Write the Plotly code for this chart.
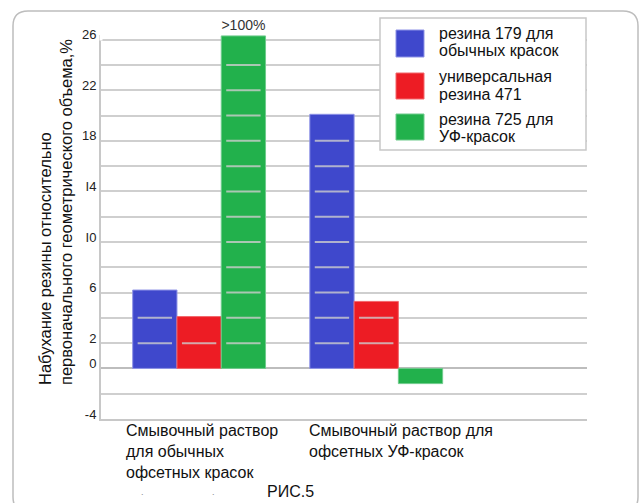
import plotly.graph_objects as go

# ---------------- data ----------------
categories = [
    "Смывочный раствор<br>для обычных<br>офсетных красок",
    "Смывочный раствор для<br>офсетных УФ-красок",
]
series_names = [
    ["резина 179 для", "обычных красок"],
    ["универсальная", "резина 471"],
    ["резина 725 для", "УФ-красок"],
]
resin_179 = [6.2, 20.1]
resin_471 = [4.1, 5.3]
resin_725 = [26.3, -1.2]
resin_725_labels = [">100%", ""]
tick_values = [26, 22, 18, 14, 10, 6, 2, 0, -4]
tick_labels = ["26", "22", "18", "I4", "I0", "6", "2", "0", "-4"]
y_title = "Набухание резины относительно<br>первоначального геометрического объема,%"
caption = "РИС.5"

# ---------------- style ----------------
colors = ["#3F48CC", "#ED1C24", "#22B14C"]
edge_colors = ["#8E93E6", "#F2666B", "#6FCB8C"]
FONT = "Liberation Sans, Arial, sans-serif"
W, H = 643, 503
ML, MR, MT, MB = 101, 56, 35, 84
PW, PH = W - ML - MR, H - MT - MB
PX_PER_UNIT = 12.643
Y_MIN = -4
Y_MAX = Y_MIN + PH / PX_PER_UNIT


def px(x):
    return (x - ML) / PW


def py(y):
    return (H - MB - y) / PH


bar_width = 0.25
offsets = [-0.375, -0.125, 0.125]
x_pos = list(range(len(categories)))
series = [resin_179, resin_471, resin_725]

fig = go.Figure()
for i, vals in enumerate(series):
    fig.add_trace(go.Bar(
        x=x_pos, y=vals, width=bar_width, offset=offsets[i],
        marker=dict(color=colors[i], line=dict(color=edge_colors[i], width=1)),
        text=resin_725_labels if i == 2 else None,
        textposition="outside" if i == 2 else "none",
        textfont=dict(family=FONT, size=14, color="#333333"),
        constraintext="none", cliponaxis=False,
        showlegend=False, hoverinfo="skip",
    ))

# light lines seen through the bars at gridline levels
inset = 0.028
seg_x, seg_y = [], []
for i, vals in enumerate(series):
    for xi, v in zip(x_pos, vals):
        g = 2
        while g < v - 0.5:
            x0 = xi + offsets[i] + inset
            x1 = xi + offsets[i] + bar_width - inset
            seg_x += [x0, x1, None]
            seg_y += [g, g, None]
            g += 2
fig.add_trace(go.Scatter(
    x=seg_x, y=seg_y, mode="lines",
    line=dict(color="rgba(205,205,205,0.8)", width=2),
    showlegend=False, hoverinfo="skip",
))

grid_c = "#cfcfcf"
fig.update_layout(
    width=W, height=H,
    margin=dict(l=ML, r=MR, t=MT, b=MB),
    paper_bgcolor="white", plot_bgcolor="white",
    barmode="overlay",
    font=dict(family=FONT, color="#222222"),
    showlegend=False,
    xaxis=dict(
        range=[-0.554, 2.19], showticklabels=False, showgrid=False,
        zeroline=False, showline=True, linecolor="#c8c8c8", linewidth=2,
        fixedrange=True,
    ),
    yaxis=dict(
        range=[Y_MIN, Y_MAX], tickmode="array", tickvals=tick_values,
        ticktext=tick_labels, showgrid=True, gridcolor=grid_c, gridwidth=1.5,
        minor=dict(tick0=0, dtick=2, showgrid=True, gridcolor=grid_c, gridwidth=1.5),
        zeroline=True, zerolinecolor="#bdbdbd", zerolinewidth=2,
        showline=True, linecolor="#c8c8c8", linewidth=2,
        tickfont=dict(family=FONT, size=13, color="#222222"),
        ticklabelshift=-5, ticklabelstandoff=0, ticks="",
        fixedrange=True,
    ),
)

shapes = []
# cover the left axis line above the top gridline (reference has no line there)
shapes.append(dict(type="line", xref="paper", yref="paper",
                   x0=0, x1=0, y0=py(40.5), y1=1,
                   line=dict(color="white", width=3), layer="above"))
# outer rounded frame
l, r, t, b, rad = 13, 638, 11, 512, 15
pts = lambda x, y: f"{px(x)},{py(y)}"
path = (f"M {pts(l + rad, t)} L {pts(r - rad, t)} Q {pts(r, t)} {pts(r, t + rad)} "
        f"L {pts(r, b - rad)} Q {pts(r, b)} {pts(r - rad, b)} "
        f"L {pts(l + rad, b)} Q {pts(l, b)} {pts(l, b - rad)} "
        f"L {pts(l, t + rad)} Q {pts(l, t)} {pts(l + rad, t)} Z")
shapes.append(dict(type="path", xref="paper", yref="paper", path=path,
                   line=dict(color="#bdbdbd", width=1.5), layer="below"))
# legend box
shapes.append(dict(type="rect", xref="paper", yref="paper",
                   x0=px(380), x1=px(586), y0=py(150), y1=py(18),
                   line=dict(color="#c8c8c8", width=1.5), fillcolor="white",
                   layer="above"))
sw_y = [(30, 57), (73, 99), (114, 140)]
line_y = [(33.5, 50.5), (76, 94), (119.5, 136.5)]
annotations = []
for i in range(3):
    shapes.append(dict(type="rect", xref="paper", yref="paper",
                       x0=px(396), x1=px(424), y0=py(sw_y[i][1]), y1=py(sw_y[i][0]),
                       line=dict(color=edge_colors[i], width=1), fillcolor=colors[i],
                       layer="above"))
    for j in range(2):
        annotations.append(dict(
            xref="paper", yref="paper", x=px(437), y=py(line_y[i][j]),
            xanchor="left", yanchor="middle", showarrow=False,
            text=series_names[i][j], font=dict(family=FONT, size=16, color="#111111"),
        ))

# category labels (left aligned)
cat_left = [124, 307]
for k, c in enumerate(categories):
    annotations.append(dict(
        xref="paper", yref="paper", x=px(cat_left[k]), y=py(420),
        xanchor="left", yanchor="top", align="left", showarrow=False,
        text=c, font=dict(family=FONT, size=16, color="#111111"),
    ))

# y axis title
annotations.append(dict(
    xref="paper", yref="paper", x=px(55), y=py(212), textangle=-90,
    xanchor="center", yanchor="middle", align="left", showarrow=False,
    text=y_title, font=dict(family=FONT, size=16.5, color="#111111"),
))

# caption
annotations.append(dict(
    xref="paper", yref="paper", x=px(290), y=py(491),
    xanchor="center", yanchor="middle", showarrow=False,
    text=caption, font=dict(family=FONT, size=16, color="#111111"),
))
for dx in (142, 213):
    annotations.append(dict(
        xref="paper", yref="paper", x=px(dx), y=py(492),
        xanchor="center", yanchor="middle", showarrow=False,
        text=".", font=dict(family=FONT, size=9, color="#888888"),
    ))

fig.update_layout(shapes=shapes, annotations=annotations)
fig.write_html(
    "out.html",
    config={"displayModeBar": False},
    post_script="document.body.style.margin='0';document.body.style.overflow='hidden';",
)
